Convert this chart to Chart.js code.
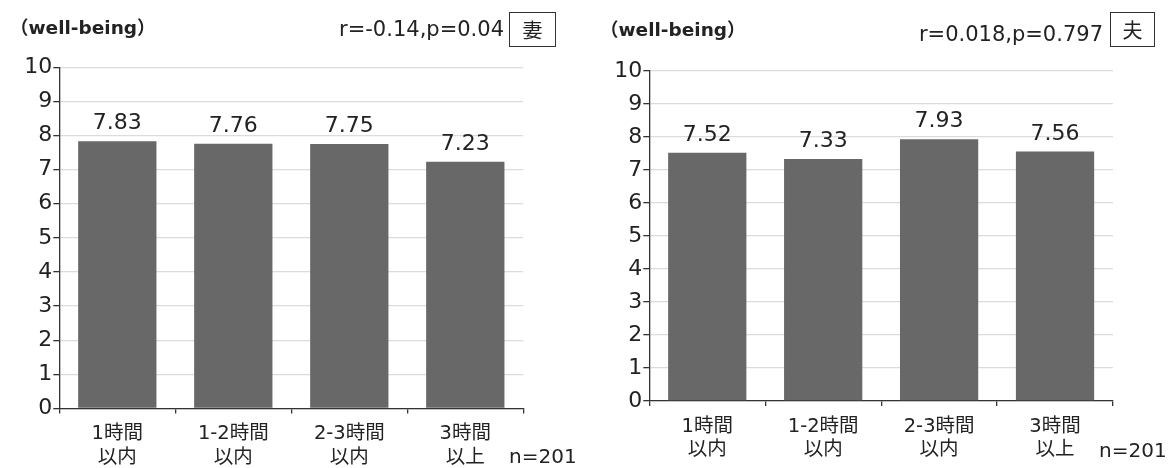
<!DOCTYPE html>
<html>
<head>
<meta charset="utf-8">
<script src="https://cdn.jsdelivr.net/npm/chart.js@4"></script>
<style>
  body { margin: 0; background: #fff; width: 1171px; height: 468px; position: relative; overflow: hidden;
         font-family: 'DejaVu Sans', 'Noto Sans CJK JP', sans-serif; color: #222; }
  .panel { position: absolute; top: 0; height: 468px; }
  .txt { position: absolute; white-space: nowrap; line-height: 1; }
  .box { position: absolute; border: 1.2px solid #333; box-sizing: border-box; text-align: center;
         font-family: 'Noto Sans CJK JP', sans-serif; font-size: 20px; }
</style>
</head>
<body>
<div class="panel" style="left:0;width:585px"><canvas id="wife"></canvas></div>
<div class="panel" style="left:585px;width:586px"><canvas id="husband"></canvas></div>

<div class="txt" style="left:10px;top:19px;font-size:18.5px;font-weight:bold">（well-being）</div>
<div class="txt" style="right:667px;top:19px;font-size:21px">r=-0.14,p=0.04</div>
<div class="box" style="left:509px;top:12px;width:47px;height:35px;line-height:33px">妻</div>
<div class="txt" style="left:509px;top:446px;font-size:20px">n=201</div>

<div class="txt" style="left:600px;top:21px;font-size:18.5px;font-weight:bold">（well-being）</div>
<div class="txt" style="right:68px;top:24px;font-size:21px">r=0.018,p=0.797</div>
<div class="box" style="left:1110px;top:12px;width:45px;height:35px;line-height:33px">夫</div>
<div class="txt" style="left:1099px;top:440px;font-size:20px">n=201</div>

<script>
// categories (two-line labels)
const categories = [['1時間', '以内'], ['1-2時間', '以内'], ['2-3時間', '以内'], ['3時間', '以上']];
// well-being means
const wifeValues = [7.83, 7.76, 7.75, 7.23];
const husbandValues = [7.52, 7.33, 7.93, 7.56];
// y axis range
const yMin = 0;
const yMax = 10;
const yStep = 1;

const FONT = "'DejaVu Sans', 'Noto Sans CJK JP', sans-serif";

// value labels above each bar
const valueLabels = {
    id: 'valueLabels',
    afterDatasetsDraw(chart) {
        const ctx = chart.ctx;
        const meta = chart.getDatasetMeta(0);
        ctx.save();
        ctx.font = '22px ' + FONT;
        ctx.fillStyle = '#222';
        ctx.textAlign = 'center';
        ctx.textBaseline = 'alphabetic';
        meta.data.forEach((bar, i) => {
            const v = chart.data.datasets[0].data[i];
            ctx.fillText(v.toFixed(2), bar.x, bar.y - 12);
        });
        ctx.restore();
    }
};

function makeChart(id, values, yWidth, xHeight, pad) {
    const ctx = document.getElementById(id).getContext('2d');
    return new Chart(ctx, {
        type: 'bar',
        data: {
            labels: categories,
            datasets: [{
                data: values,
                backgroundColor: '#686868',
                borderWidth: 0,
                categoryPercentage: 1,
                barPercentage: 0.675
            }]
        },
        options: {
            responsive: true,
            maintainAspectRatio: false,
            animation: false,
            layout: { padding: pad },
            plugins: { legend: { display: false }, tooltip: { enabled: false } },
            scales: {
                x: {
                    offset: true,
                    grid: { offset: true, drawOnChartArea: false, tickLength: 5, tickColor: '#333', lineWidth: 1.3 },
                    border: { color: '#333', width: 1.3 },
                    ticks: { color: '#222', padding: 9, maxRotation: 0, font: { family: FONT, size: 19.5, lineHeight: 1.2 } },
                    afterFit: s => { s.height = xHeight; }
                },
                y: {
                    min: yMin,
                    max: yMax,
                    ticks: { stepSize: yStep, color: '#222', padding: 1, font: { family: FONT, size: 22 } },
                    grid: { color: '#dcdcdc', lineWidth: 1.3, tickLength: 6, tickColor: '#333' },
                    border: { color: '#333', width: 1.3 },
                    afterFit: s => { s.width = yWidth; }
                }
            }
        },
        plugins: [valueLabels]
    });
}

makeChart('wife', wifeValues, 59.3, 59.5, { left: 0, right: 61.7, top: 67.3, bottom: 0 });
makeChart('husband', husbandValues, 64.3, 67, { left: 0, right: 58, top: 71, bottom: 0 });
</script>
</body>
</html>
